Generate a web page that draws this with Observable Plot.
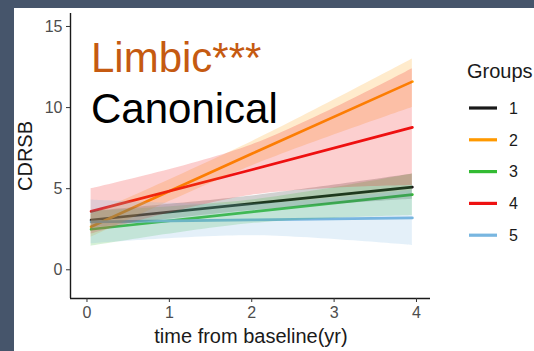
<!DOCTYPE html>
<html>
<head>
<meta charset="utf-8">
<script src="https://cdn.jsdelivr.net/npm/d3@7"></script>
<script src="https://cdn.jsdelivr.net/npm/@observablehq/plot@0.6"></script>
<style>
  html, body { margin: 0; padding: 0; }
  body {
    width: 534px; height: 351px; position: relative; overflow: hidden;
    background: #46556b;
    font-family: "Liberation Sans", Arial, sans-serif;
  }
  #panel {
    position: absolute; left: 14px; top: 8px; width: 520px; height: 343px;
    background: #ffffff; overflow: hidden;
  }
  #chart { position: absolute; left: 0; top: 0; }
  #overlay { position: absolute; left: 0; top: 0; pointer-events: none; }
</style>
</head>
<body>
<div id="panel"><div id="chart"></div></div>
<svg id="overlay" width="534" height="351"></svg>
<script>
// Mixed-model CDRSB trajectories by group, with confidence ribbons
const groups = ["1", "2", "3", "4", "5"];
const groupColors = ["#1a1a1a", "#ff9900", "#33bb33", "#ee1111", "#78b6e0"];
const times = [0.05, 2, 3.95];

// predicted CDRSB at each time, one row per group
const fit = [
  [3.07, 4.08, 5.10],
  [2.65, 7.15, 11.60],
  [2.50, 3.57, 4.63],
  [3.60, 6.17, 8.78],
  [2.95, 3.08, 3.20]
];
const lower = [
  [2.55, 3.65, 4.35],
  [2.00, 6.40, 10.00],
  [1.45, 2.85, 3.35],
  [2.20, 4.60, 5.20],
  [1.60, 2.10, 1.50]
];
const upper = [
  [3.60, 4.55, 5.90],
  [3.40, 7.90, 13.00],
  [3.60, 4.30, 5.90],
  [5.00, 7.70, 12.40],
  [4.30, 4.05, 4.90]
];

const xTicks = [0, 1, 2, 3, 4];
const yTicks = [0, 5, 10, 15];
const xDomain = [-0.2, 4.17];
const yDomain = [-1.77, 15.8];

const xTitle = "time from baseline(yr)";
const yTitle = "CDRSB";
const legendTitle = "Groups";
const notes = [
  { text: "Limbic***", color: "#c55a11" },
  { text: "Canonical", color: "#000000" }
];

const rows = groups.flatMap((g, i) =>
  times.map((t, j) => ({ group: g, t, fit: fit[i][j], lo: lower[i][j], hi: upper[i][j] }))
);

const chart = Plot.plot({
  width: 520,
  height: 343,
  marginLeft: 56,
  marginRight: 104,
  marginTop: 5,
  marginBottom: 53,
  x: { domain: xDomain, ticks: xTicks, label: null },
  y: { domain: yDomain, ticks: yTicks, label: null },
  color: { domain: groups, range: groupColors },
  style: { fontFamily: "Liberation Sans, Arial, sans-serif", fontSize: "16px", background: "transparent", overflow: "visible" },
  marks: [
    // fitted lines first; the translucent ribbons are layered over them
    Plot.line(rows, { x: "t", y: "fit", z: "group", stroke: "group", strokeWidth: 2.7 }),
    Plot.areaY(rows, { x: "t", y1: "lo", y2: "hi", z: "group", fill: "group", fillOpacity: 0.2, curve: "catmull-rom" }),
    Plot.ruleX([xDomain[0]], { stroke: "#1a1a1a", strokeWidth: 1.4 }),
    Plot.ruleY([yDomain[0]], { stroke: "#1a1a1a", strokeWidth: 1.4 }),
    Plot.axisX(xTicks, { tickSize: 4, tickPadding: 4, stroke: "#333333", fill: "#4d4d4d", label: null, fontSize: 16 }),
    Plot.axisY(yTicks, { tickSize: 4, tickPadding: 4, stroke: "#333333", fill: "#4d4d4d", label: null, fontSize: 16 })
  ]
});
document.getElementById("chart").append(chart);

// titles, annotations and legend
const svg = d3.select("#overlay").style("font-family", "Liberation Sans, Arial, sans-serif");

svg.append("text").attr("x", 251).attr("y", 343).attr("text-anchor", "middle")
  .attr("font-size", 20).attr("fill", "#1a1a1a").text(xTitle);
svg.append("text").attr("transform", "translate(32,156) rotate(-90)").attr("text-anchor", "middle")
  .attr("font-size", 20).attr("fill", "#1a1a1a").text(yTitle);

svg.selectAll("text.note").data(notes).join("text").attr("class", "note")
  .attr("x", 91).attr("y", (d, i) => 72 + i * 51)
  .attr("font-size", 42).attr("fill", d => d.color).text(d => d.text);

svg.append("text").attr("x", 467).attr("y", 78).attr("font-size", 20).attr("fill", "#1a1a1a").text(legendTitle);
const key = svg.selectAll("g.key").data(groups).join("g").attr("class", "key")
  .attr("transform", (d, i) => `translate(0,${108 + i * 31.8})`);
key.append("line").attr("x1", 469).attr("x2", 497).attr("y1", 0).attr("y2", 0)
  .attr("stroke", (d, i) => groupColors[i]).attr("stroke-width", 3.2);
key.append("text").attr("x", 509).attr("y", 0).attr("dy", "0.36em").attr("font-size", 16)
  .attr("fill", "#1a1a1a").text(d => d);
</script>
</body>
</html>
